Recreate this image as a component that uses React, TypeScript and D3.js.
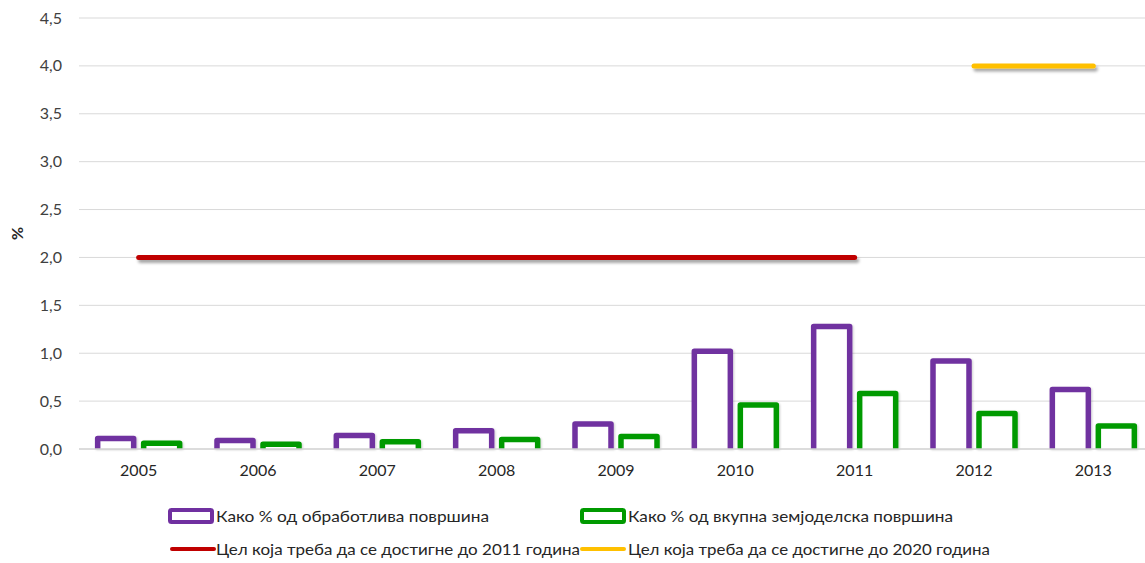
import React from 'react';
import * as d3 from 'd3';

const years = ['2005', '2006', '2007', '2008', '2009', '2010', '2011', '2012', '2013'];
const arablePct = [0.11, 0.09, 0.14, 0.19, 0.26, 1.02, 1.28, 0.92, 0.62];
const agriPct = [0.06, 0.05, 0.075, 0.10, 0.13, 0.46, 0.58, 0.37, 0.24];
const yTicks = [0, 0.5, 1, 1.5, 2, 2.5, 3, 3.5, 4, 4.5];

const target2011 = { from: '2005', to: '2011', value: 2.0 };
const target2020 = { from: '2012', to: '2013', value: 4.0 };

const seriesNames = [
    'Како % од обработлива површина',
    'Како % од вкупна земјоделска површина',
    'Цел која треба да се достигне до 2011 година',
    'Цел која треба да се достигне до 2020 година',
];

const purple = '#7030a0';
const green = '#009a00';
const red = '#c00000';
const yellow = '#ffc000';

const width = 1145;
const height = 563;
const marginTop = 18;
const marginBottom = 114;
const marginLeft = 79;
const plotRight = 1153;

const font = 'Lato, "Open Sans", sans-serif';

const App: React.FC = () => {
    const x = d3.scaleBand<string>().domain(years).range([marginLeft, plotRight]);
    const y = d3.scaleLinear().domain([0, 4.5]).range([height - marginBottom, marginTop]);
    const fmt = (v: number) => d3.format('.1f')(v).replace('.', ',');

    const sw = 5.5;
    const barW = 36;
    const off = 23;
    const center = (c: string) => (x(c) as number) + x.bandwidth() / 2;

    const bar = (c: string, v: number, dx: number, color: string, key: string) => {
        const cx = center(c) + dx;
        const top = y(v);
        return (
            <path key={key}
                d={`M${cx - barW / 2},${y(0)} L${cx - barW / 2},${top} L${cx + barW / 2},${top} L${cx + barW / 2},${y(0)}`}
                fill="#fff" stroke={color} strokeWidth={sw} strokeLinejoin="round" filter="url(#shadowSmall)" />
        );
    };

    const legendY1 = 516;
    const legendY2 = 549;

    return (
        <svg width={width} height={height} style={{ position: 'absolute', left: 0, top: 0 }} fontFamily={font}>
            <defs>
                <filter id="shadow" filterUnits="userSpaceOnUse" x="0" y="0" width={width} height={height}>
                    <feDropShadow dx="2" dy="3" stdDeviation="1.8" floodColor="#000" floodOpacity="0.35" />
                </filter>
                <filter id="shadowSmall" filterUnits="userSpaceOnUse" x="0" y="0" width={width} height={height}>
                    <feDropShadow dx="1" dy="1" stdDeviation="1" floodColor="#000" floodOpacity="0.2" />
                </filter>
            </defs>

            {yTicks.map(t => (
                <g key={t}>
                    {t > 0 && <line x1={marginLeft} x2={width} y1={y(t)} y2={y(t)} stroke="#d9d9d9" strokeWidth={1} />}
                    <text x={62} y={y(t)} dy="0.35em" textAnchor="end" fontSize={16} fill="#404040">{fmt(t)}</text>
                </g>
            ))}

            <text transform={`translate(23, ${y(2.25)}) rotate(-90)`} textAnchor="middle" fontSize={16} fontWeight="bold" fill="#262626">%</text>

            {years.map((c, i) => (
                <g key={c}>
                    {bar(c, arablePct[i], -off, purple, 'a' + c)}
                    {bar(c, agriPct[i], off, green, 'g' + c)}
                    <text x={center(c)} y={y(0) + 27} textAnchor="middle" fontSize={16} fill="#262626">{c}</text>
                </g>
            ))}

            <line x1={marginLeft} x2={width} y1={y(0)} y2={y(0)} stroke="#d0d0d0" strokeWidth={1.5} />

            <line x1={center(target2011.from)} x2={center(target2011.to)} y1={y(target2011.value)} y2={y(target2011.value)}
                stroke={red} strokeWidth={5} strokeLinecap="round" filter="url(#shadow)" />
            <line x1={center(target2020.from)} x2={center(target2020.to)} y1={y(target2020.value)} y2={y(target2020.value)}
                stroke={yellow} strokeWidth={5} strokeLinecap="round" filter="url(#shadow)" />

            <g fontSize={16} fill="#262626">
                <rect x={170} y={legendY1 - 6} width={42} height={12} fill="#fff" stroke={purple} strokeWidth={4} rx={1.5} />
                <text x={216} y={legendY1} dy="0.35em" textLength={273} lengthAdjust="spacingAndGlyphs">{seriesNames[0]}</text>
                <rect x={582} y={legendY1 - 6} width={42} height={12} fill="#fff" stroke={green} strokeWidth={4} rx={1.5} />
                <text x={628} y={legendY1} dy="0.35em" textLength={325} lengthAdjust="spacingAndGlyphs">{seriesNames[1]}</text>
                <line x1={172} x2={214} y1={legendY2} y2={legendY2} stroke={red} strokeWidth={4} strokeLinecap="round" />
                <text x={216} y={legendY2} dy="0.35em" textLength={364} lengthAdjust="spacingAndGlyphs">{seriesNames[2]}</text>
                <line x1={582} x2={624} y1={legendY2} y2={legendY2} stroke={yellow} strokeWidth={4} strokeLinecap="round" />
                <text x={628} y={legendY2} dy="0.35em" textLength={362} lengthAdjust="spacingAndGlyphs">{seriesNames[3]}</text>
            </g>
        </svg>
    );
};

export default App;
